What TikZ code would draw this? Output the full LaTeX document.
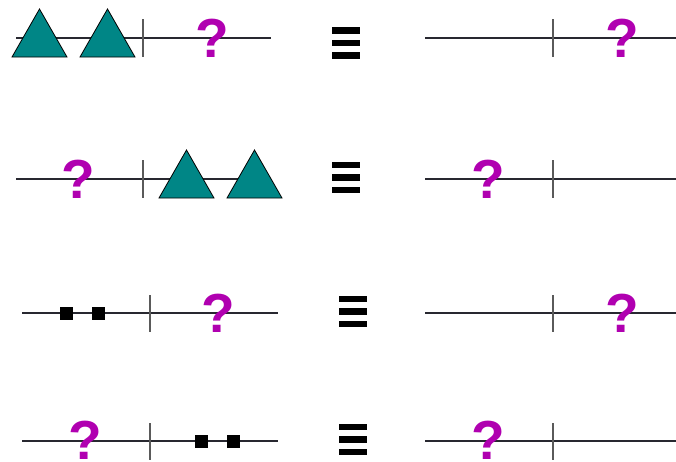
\documentclass[tikz,border=0pt]{standalone}
\usepackage{fontspec}
\setmainfont{Liberation Sans}
\definecolor{qmag}{RGB}{176,0,176}
\definecolor{tealfill}{RGB}{0,134,134}
\definecolor{axisc}{RGB}{40,40,48}
\definecolor{tickc}{RGB}{90,90,90}
\tikzset{
  qmark/.style={text=qmag, font=\bfseries\fontsize{55}{55}\selectfont, inner sep=0pt, anchor=base},
  axisline/.style={draw=axisc, line width=1.3pt},
  tickline/.style={draw=tickc, line width=1.3pt},
  tri/.style={fill=tealfill, draw=black, line width=0.8pt, line join=miter},
}
\newcommand{\eqvbars}[2]{% x-left, y-center of top bar
  \foreach \k in {0,1,2} {\fill[black] (#1,{#2+12.5*\k-3.3}) rectangle ({#1+28},{#2+12.5*\k+3.3});}
}
\begin{document}
\begin{tikzpicture}[x=1pt,y=-1pt]
\useasboundingbox (0,0) rectangle (676,461);
%% Row 1
\draw[axisline] (16,38) -- (271,38);
\draw[tickline] (143,19) -- (143,57);
\filldraw[tri] (12,57) -- (39.5,9) -- (67,57) -- cycle;
\filldraw[tri] (80,57) -- (107.5,9) -- (135,57) -- cycle;
\node[qmark] (q1) at (212.5,57) {?};
\eqvbars{332}{30.5}
\draw[axisline] (425,38) -- (676,38);
\draw[tickline] (553,19) -- (553,57);
\node[qmark] (q1r) at (622.5,57) {?};
%% Row 2
\draw[axisline] (16,179) -- (271,179);
\draw[tickline] (143,160) -- (143,198);
\filldraw[tri] (159,198) -- (186.5,150) -- (214,198) -- cycle;
\filldraw[tri] (227,198) -- (254.5,150) -- (282,198) -- cycle;
\node[qmark] (q2) at (78,198) {?};
\eqvbars{332}{165}
\draw[axisline] (425,179) -- (676,179);
\draw[tickline] (553,160) -- (553,198);
\node[qmark] (q2r) at (488,198) {?};
%% Row 3
\draw[axisline] (22,313) -- (278,313);
\draw[tickline] (150,295) -- (150,332);
\fill[black] (60,306.5) rectangle (73,319.5);
\fill[black] (92,306.5) rectangle (105,319.5);
\node[qmark] (q3) at (218.5,332) {?};
\eqvbars{338.5}{299}
\draw[axisline] (425,313) -- (676,313);
\draw[tickline] (553,295) -- (553,332);
\node[qmark] (q3r) at (622.5,332) {?};
%% Row 4
\draw[axisline] (22,441) -- (278,441);
\draw[tickline] (150,423) -- (150,460);
\fill[black] (194.5,434.5) rectangle (208,447.5);
\fill[black] (226.5,434.5) rectangle (240,447.5);
\node[qmark] (q4) at (85.5,459) {?};
\eqvbars{338.5}{427}
\draw[axisline] (425,441) -- (676,441);
\draw[tickline] (553,423) -- (553,460);
\node[qmark] (q4r) at (488,459) {?};
\end{tikzpicture}
\end{document}
